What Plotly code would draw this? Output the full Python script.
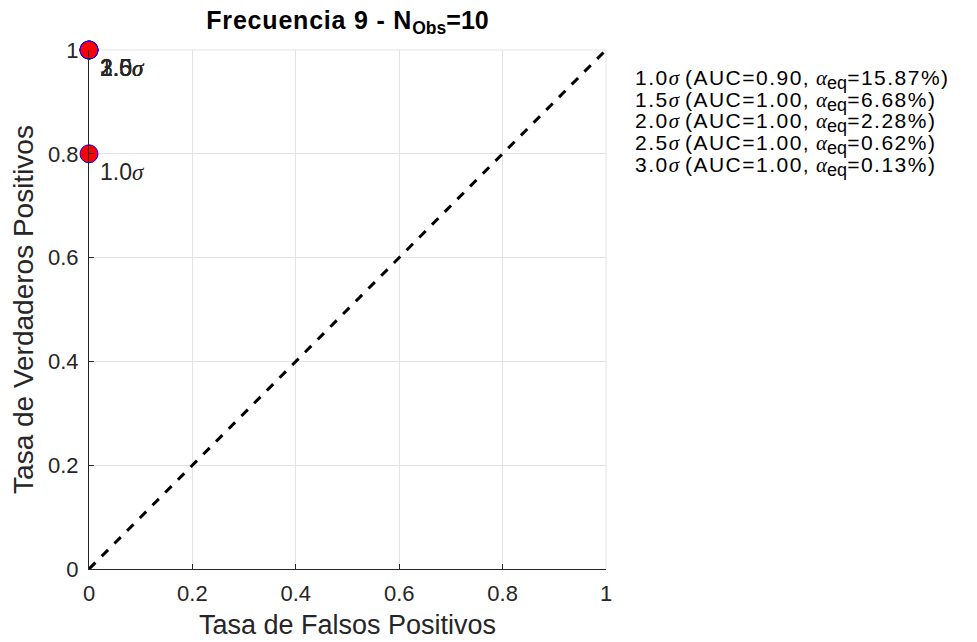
import plotly.graph_objects as go

# ROC operating points per sigma level
sigma_labels = ["1.0", "1.5", "2.0", "2.5", "3.0"]
fpr = [0.0, 0.0, 0.0, 0.0, 0.0]
tpr = [0.8, 1.0, 1.0, 1.0, 1.0]
auc = [0.90, 1.00, 1.00, 1.00, 1.00]
alpha_eq = [15.87, 6.68, 2.28, 0.62, 0.13]

diag_x = [0, 1]
diag_y = [0, 1]

FONT = "Liberation Sans, Arial, sans-serif"
SERIF = "Liberation Serif, Times New Roman, serif"


def greek(ch):
    return f"<span style='font-family:{SERIF}'><i>{ch}</i></span>"


def spaced(txt, px=1.5):
    return f"<span style='letter-spacing:{px}px'>{txt}</span>"


fig = go.Figure()

# chance line
fig.add_trace(go.Scatter(
    x=diag_x, y=diag_y, mode="lines",
    line=dict(color="black", width=3, dash="dash"),
    showlegend=False, hoverinfo="skip",
))

# operating points
fig.add_trace(go.Scatter(
    x=fpr, y=tpr, mode="markers",
    marker=dict(size=18, color="red", line=dict(color="blue", width=1)),
    showlegend=False, cliponaxis=False,
))

# sigma labels next to each point
for s, x, y in zip(sigma_labels, fpr, tpr):
    fig.add_annotation(
        x=x, y=y, xref="x", yref="y",
        text=f"{s}{greek('σ')}", showarrow=False,
        xanchor="left", yanchor="middle",
        xshift=9, yshift=-18,
        font=dict(family=FONT, size=23, color="#262626"),
    )

# summary list on the right
for i, (s, a, al) in enumerate(zip(sigma_labels, auc, alpha_eq)):
    fig.add_annotation(
        x=(633 - 89) / 517, y=1 - (30 + 21.5 * i) / 519, xref="paper", yref="paper",
        text=(f"{spaced(s)}{greek('σ')} {spaced(f'(AUC={a:.2f},')} {greek('α')}"
              f"<sub><span style='font-size:18px'>eq</span></sub>"
              f"{spaced(f'={al:.2f}%)')}"),
        showarrow=False, xanchor="left", yanchor="middle",
        font=dict(family=FONT, size=21, color="black"),
    )

axis_common = dict(
    range=[0, 1], dtick=0.2, tick0=0, automargin=False,
    showgrid=True, gridcolor="#e3e3e3", gridwidth=1,
    showline=True, linecolor="#262626", linewidth=1.2,
    ticks="inside", ticklen=5, tickcolor="#262626",
    tickfont=dict(family=FONT, size=22, color="#262626"),
    zeroline=False, mirror=False,
)

fig.update_layout(
    width=977, height=642,
    margin=dict(l=89, r=371, t=50, b=73),
    paper_bgcolor="white", plot_bgcolor="white",
    title=dict(
        text=("<b><span style='letter-spacing:0.8px'>Frecuencia 9 - N</span>"
              "<sub>Obs</sub>=10</b>"),
        x=(89 + 606) / 2 / 977, xanchor="center",
        y=1 - 20 / 642, yanchor="middle",
        font=dict(family=FONT, size=25, color="black"),
    ),
    xaxis=dict(
        **axis_common,
        ticklabelstandoff=4,
        title=dict(text="Tasa de Falsos Positivos", standoff=10,
                   font=dict(family=FONT, size=27, color="#262626")),
    ),
    yaxis=dict(
        **axis_common,
        ticklabelstandoff=5,
        title=dict(text="Tasa de Verdaderos Positivos", standoff=6,
                   font=dict(family=FONT, size=28, color="#262626")),
    ),
)

# light frame on top and right edges
fig.add_shape(type="line", xref="paper", yref="paper", x0=0, y0=1, x1=1, y1=1,
              line=dict(color="#e3e3e3", width=1), layer="below")
fig.add_shape(type="line", xref="paper", yref="paper", x0=1, y0=0, x1=1, y1=1,
              line=dict(color="#e3e3e3", width=1), layer="below")

fig.write_html("out.html")
